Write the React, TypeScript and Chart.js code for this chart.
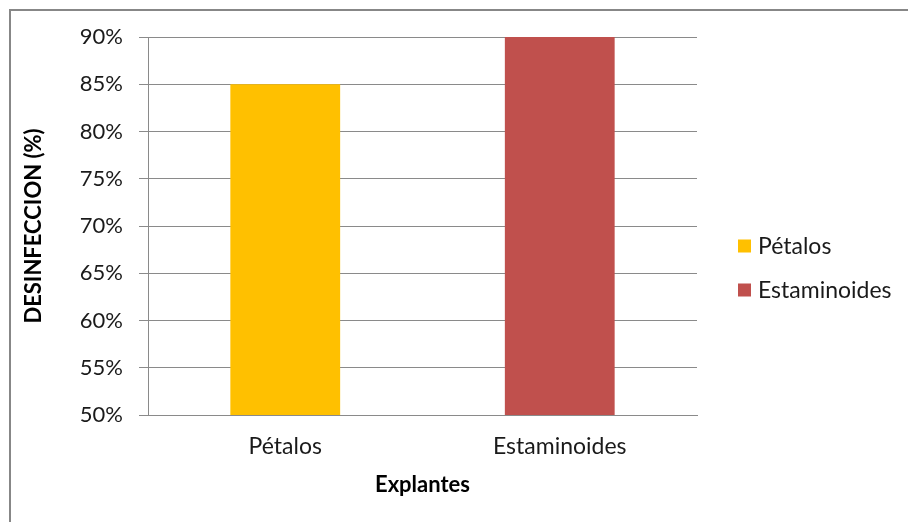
import React, { useEffect, useRef } from "react";
import { Chart, registerables } from "chart.js";

Chart.register(...registerables);

const categories = ["Pétalos", "Estaminoides"];
const values = [85, 90];
const barColors = ["#FFC000", "#C0504D"];
const yMin = 50;
const yMax = 90;
const yStep = 5;
const yTitle = "DESINFECCION (%)";
const xTitle = "Explantes";

const FONT = "Lato, 'Open Sans', sans-serif";

const sideLegend = {
  id: "sideLegend",
  afterDraw(chart: any) {
    const ctx = chart.ctx;
    const labels: string[] = chart.data.labels;
    const colors: string[] = chart.data.datasets[0].backgroundColor;
    const x0 = chart.chartArea.right + 41;
    const yStart = 246;
    const gap = 44;
    ctx.save();
    ctx.font = `23px ${FONT}`;
    ctx.textBaseline = "middle";
    ctx.textAlign = "left";
    labels.forEach((lab, i) => {
      const cy = yStart + i * gap;
      ctx.fillStyle = colors[i];
      ctx.fillRect(x0, cy - 6.5, 13, 13);
      ctx.fillStyle = "#1a1a1a";
      ctx.fillText(lab, x0 + 20, cy + 1);
    });
    ctx.restore();
  },
};

export default function App() {
  const ref = useRef<HTMLCanvasElement | null>(null);
  useEffect(() => {
    if (!ref.current) return;
    const chart = new Chart(ref.current, {
      type: "bar",
      data: {
        labels: categories,
        datasets: [
          {
            label: "Desinfección",
            data: values,
            backgroundColor: barColors,
            barPercentage: 0.4,
            categoryPercentage: 1,
          },
        ],
      },
      options: {
        animation: false,
        responsive: false,
        maintainAspectRatio: false,
        layout: { padding: { left: 0, top: 37, right: 211, bottom: 0 } },
        plugins: { legend: { display: false }, tooltip: { enabled: false } },
        scales: {
          x: {
            grid: { display: false, drawTicks: false },
            border: { display: true, color: "#8a8a8a", width: 1 },
            ticks: { color: "#1a1a1a", font: { family: FONT, size: 23 }, padding: 18 },
            title: {
              display: true,
              text: xTitle,
              color: "#000",
              font: { family: FONT, size: 22, weight: "bold" },
              padding: { top: 0, bottom: 24 },
            },
            afterFit: (axis: any) => {
              axis.height = 107;
            },
          },
          y: {
            min: yMin,
            max: yMax,
            ticks: {
              stepSize: yStep,
              color: "#1a1a1a",
              font: { family: FONT, size: 22 },
              padding: 16,
              callback: (v: any) => `${v}%`,
            },
            grid: { color: "#8a8a8a", lineWidth: 1, tickLength: 9, drawTicks: true },
            border: { display: true, color: "#8a8a8a", width: 1 },
            title: {
              display: true,
              text: yTitle,
              color: "#000",
              font: { family: FONT, size: 22, weight: "bold" },
              padding: { top: 21, bottom: 0 },
            },
            afterFit: (axis: any) => {
              axis.width = 148;
            },
          },
        },
      },
      plugins: [sideLegend],
    });
    return () => chart.destroy();
  }, []);

  return (
    <div style={{ position: "fixed", left: 0, top: 0, width: 908, height: 522, background: "#fff", overflow: "hidden" }}>
      <div
        style={{
          position: "absolute",
          left: 9,
          top: 9,
          width: 940,
          height: 560,
          borderLeft: "2px solid #878787",
          borderTop: "2px solid #878787",
          boxSizing: "border-box",
        }}
      />
      <canvas ref={ref} width={908} height={522} style={{ position: "absolute", left: 0, top: 0, width: 908, height: 522 }} />
    </div>
  );
}
